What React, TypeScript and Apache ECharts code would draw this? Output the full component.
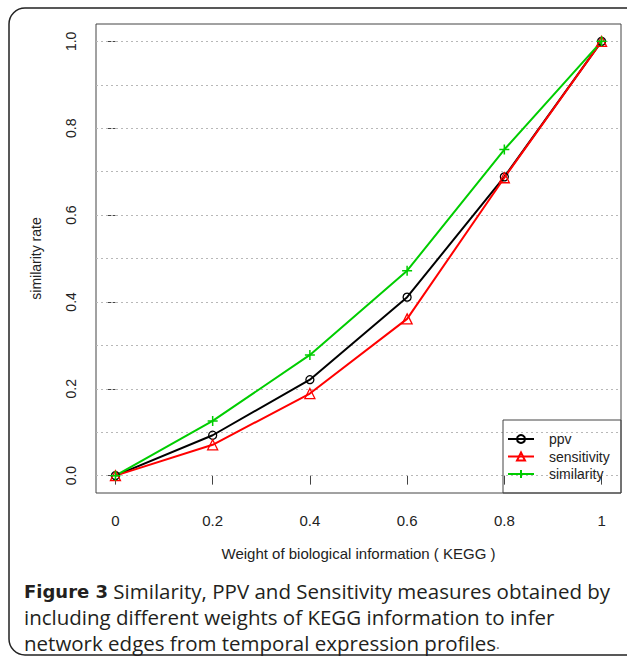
import React, { useEffect, useRef } from "react";
import * as echarts from "echarts";

const weights = [0, 0.2, 0.4, 0.6, 0.8, 1];
const ppv = [0.0, 0.093, 0.221, 0.411, 0.688, 1.0];
const sensitivity = [0.0, 0.071, 0.189, 0.361, 0.686, 1.0];
const similarity = [0.0, 0.126, 0.278, 0.472, 0.751, 1.0];
const xTicks = [0, 0.2, 0.4, 0.6, 0.8, 1];
const yTicks = [0, 0.2, 0.4, 0.6, 0.8, 1];
const gridValues = [0, 0.1, 0.2, 0.3, 0.4, 0.5, 0.6, 0.7, 0.8, 0.9, 1.0];

const captionLines = [
  "{b|Figure 3} Similarity, PPV and Sensitivity measures obtained by",
  "including different weights of KEGG information to infer",
  "network edges from temporal expression profiles{d|.}",
];

const AX_FONT = "'Liberation Sans', Arial, sans-serif";
const CAP_FONT = "'Open Sans', sans-serif";
const CAP_SIZE = 20.5;

export default function App() {
  const ref = useRef<HTMLDivElement>(null);
  useEffect(() => {
    if (!ref.current) return;
    const chart = echarts.init(ref.current, undefined, { renderer: "svg" });
    const pairs = (ys: number[]) => weights.map((w, i) => [w, ys[i]]);
    const mk = (name: string, ys: number[], color: string, symbol: string, size: number, extra: any = {}) => ({
      name,
      type: "line",
      data: pairs(ys),
      symbol,
      symbolSize: size,
      lineStyle: { color, width: 2 },
      itemStyle: { color: "rgba(0,0,0,0)", borderColor: color, borderWidth: 1.3 },
      z: 3,
      ...extra,
    });
    chart.setOption({
      animation: false,
      backgroundColor: "#fff",
      grid: {
        left: 96,
        top: 24,
        width: 525,
        height: 469,
        show: true,
        borderColor: "#444",
        borderWidth: 1,
        backgroundColor: "transparent",
        outerBoundsMode: "none",
      },
      xAxis: {
        type: "value",
        min: -0.04,
        max: 1.04,
        axisLine: { show: false },
        axisTick: { show: true, length: 9, customValues: xTicks, lineStyle: { color: "#444" } },
        axisLabel: {
          customValues: xTicks,
          margin: 20,
          fontSize: 15,
          color: "#222",
          fontFamily: AX_FONT,
        },
        splitLine: { show: false },
        name: "Weight of biological information ( KEGG )",
        nameLocation: "middle",
        nameGap: 53,
        nameTextStyle: { fontSize: 15, color: "#222", fontFamily: AX_FONT },
      },
      yAxis: {
        type: "value",
        min: -0.04,
        max: 1.04,
        axisLine: { show: false },
        axisTick: { show: true, length: 9, customValues: yTicks, lineStyle: { color: "#444" } },
        axisLabel: {
          customValues: yTicks,
          rotate: 90,
          margin: 18,
          fontSize: 14,
          color: "#222",
          fontFamily: AX_FONT,
          formatter: (v: number) => v.toFixed(1),
        },
        splitLine: { show: false },
        name: "similarity rate",
        nameLocation: "middle",
        nameRotate: 90,
        nameGap: 53,
        nameTextStyle: { fontSize: 14, color: "#222", fontFamily: AX_FONT },
      },
      legend: {
        orient: "vertical",
        left: 503,
        top: 420,
        padding: [12, 4, 12, 4],
        itemWidth: 26,
        itemHeight: 10,
        itemGap: 3.5,
        textStyle: { fontSize: 14, color: "#222", fontFamily: AX_FONT, padding: [0, 0, 0, 10] },
        data: ["ppv", "sensitivity", "similarity"],
      },
      graphic: [
        {
          type: "rect",
          shape: { x: 503, y: 420, width: 118, height: 73 },
          style: { fill: "none", stroke: "#444", lineWidth: 1 },
          silent: true,
          z: 10,
        },
        {
          type: "rect",
          shape: { x: 9, y: 8, width: 640, height: 647, r: 16 },
          style: { fill: "none", stroke: "#222", lineWidth: 1.5 },
          silent: true,
        },
        ...captionLines.map((t, i) => ({
          type: "text",
          x: 24,
          y: 591 + i * 26,
          style: {
            text: t,
            fontFamily: CAP_FONT,
            fontSize: CAP_SIZE,
            fill: "#231f20",
            verticalAlign: "middle",
            rich: {
              b: { fontWeight: "bold", fontFamily: "'DejaVu Sans', sans-serif", fontSize: 18, fill: "#231f20" },
              d: { fontFamily: CAP_FONT, fontSize: 14, fill: "#555" },
            },
          },
          silent: true,
        })),
      ],
      series: [
        {
          ...mk("ppv", ppv, "#000000", "circle", 8),
          markLine: {
            silent: true,
            symbol: "none",
            label: { show: false },
            lineStyle: { type: [2, 3], color: "#b8b8b8", width: 1 },
            data: gridValues.map((v) => ({ yAxis: v })),
            z: 1,
          },
        },
        mk("sensitivity", sensitivity, "#ff0000", "triangle", 10),
        mk("similarity", similarity, "#00cd00", "path://M5,0L5,10M0,5L10,5", 10, {
          itemStyle: { color: "rgba(0,0,0,0)", borderColor: "#00cd00", borderWidth: 1.5 },
        }),
      ],
    });
    return () => chart.dispose();
  }, []);
  return (
    <div
      ref={ref}
      style={{ position: "fixed", left: 0, top: 0, width: 627, height: 664, background: "#fff" }}
    />
  );
}
